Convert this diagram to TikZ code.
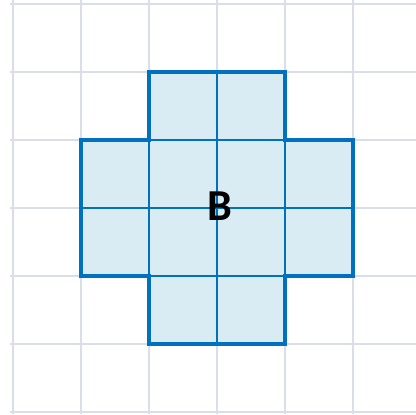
\documentclass[tikz,border=0pt]{standalone}
\usepackage{fontspec}
\setmainfont{Carlito}
\definecolor{gridgray}{RGB}{218,222,235}
\definecolor{shapeblue}{RGB}{0,112,192}
\definecolor{shapefill}{RGB}{218,236,243}

\begin{document}
\begin{tikzpicture}
\useasboundingbox (-0.191,-0.029) rectangle (5.926,6.059);
% background grid
\foreach \i in {0,...,5}
  \draw[gridgray,line width=0.85pt] (\i,-0.03) -- (\i,6.06);
\foreach \j in {0,...,6}
  \draw[gridgray,line width=0.85pt] (-0.04,\j) -- (5.93,\j);

% cross shape
\draw[fill=shapefill,draw=shapeblue,line width=1.7pt] (2,1) -- (4,1) -- (4,2) -- (5,2) -- (5,4) -- (4,4)
  -- (4,5) -- (2,5) -- (2,4) -- (1,4) -- (1,2) -- (2,2) -- cycle;
% cells inside the cross
\draw[shapeblue,line width=0.8pt] (3,1) -- (3,5) (1,3) -- (5,3)
  (2,2) -- (4,2) -- (4,4) -- (2,4) -- cycle;

\node[font=\bfseries\fontsize{18.5}{18.5}\selectfont] (label) at (3.04,3.03) {B};
\end{tikzpicture}
\end{document}
